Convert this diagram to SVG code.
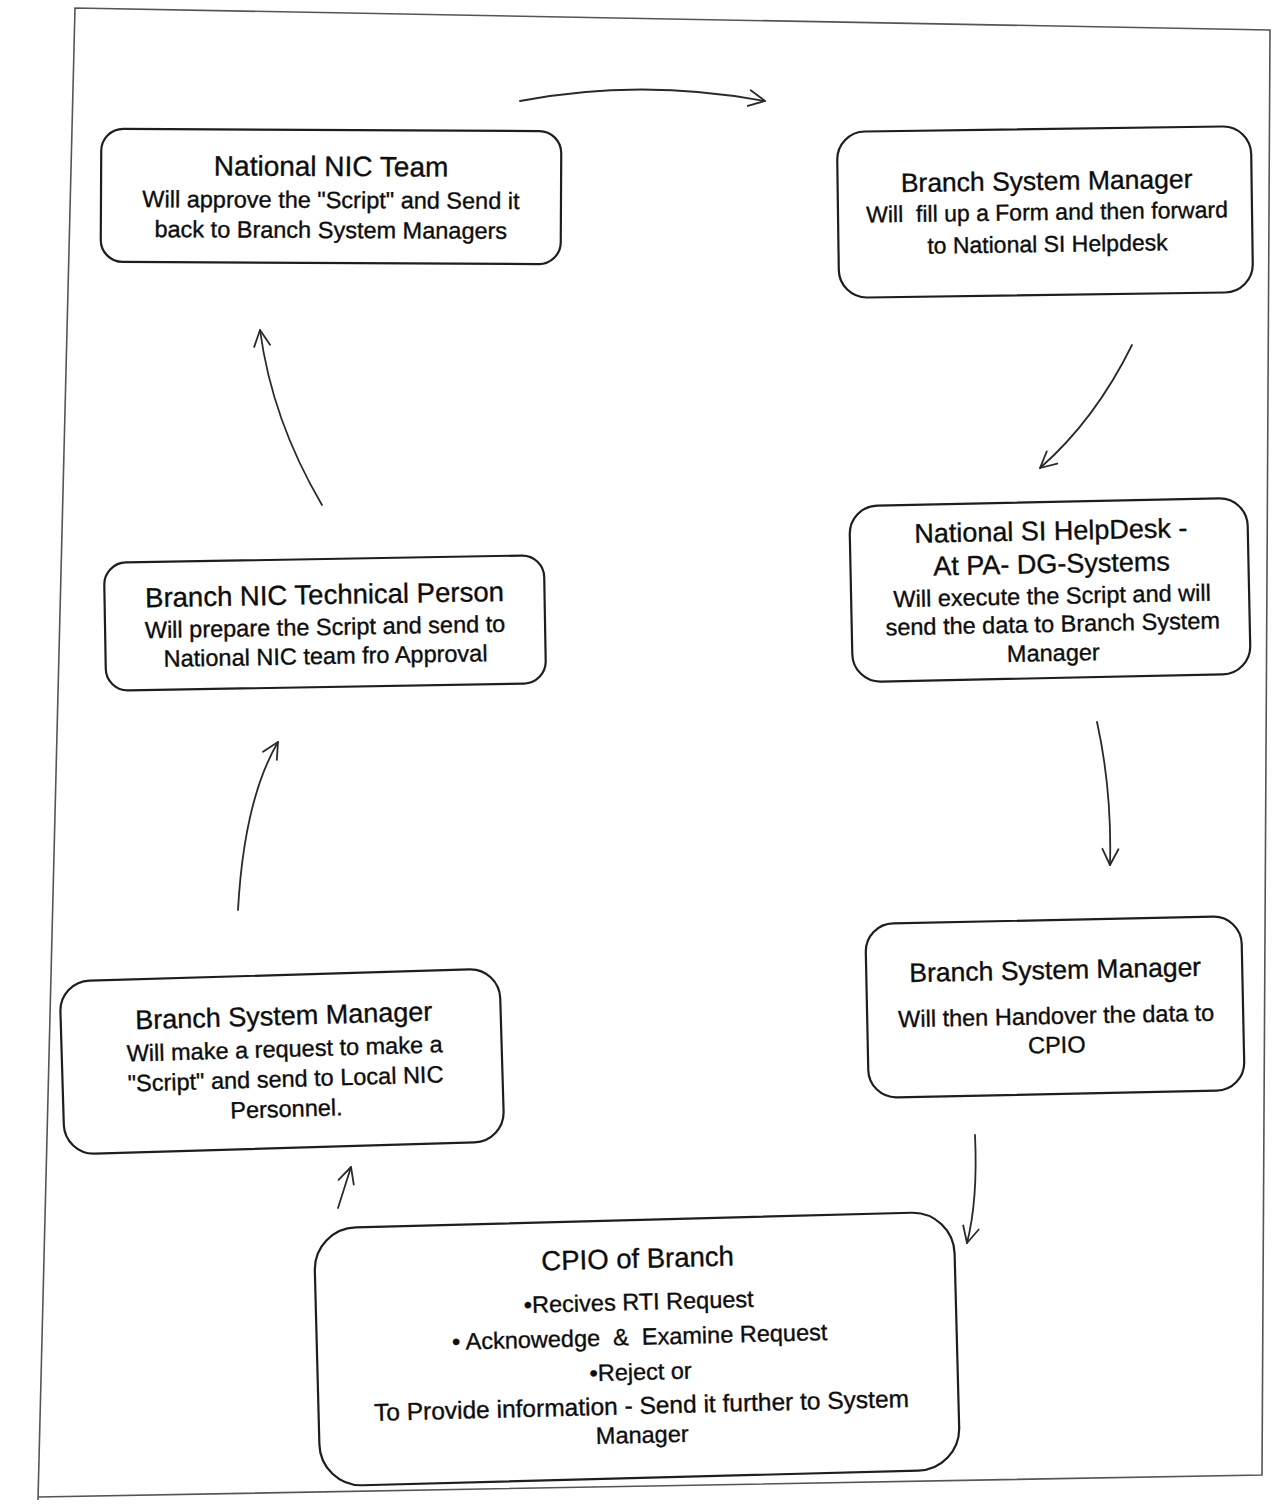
<svg xmlns="http://www.w3.org/2000/svg" width="1277" height="1504" viewBox="0 0 1277 1504">
<style>
.box{fill:#fff;stroke:#1e1e1e;stroke-width:2.2}
.t{font-family:"Liberation Sans",Arial,sans-serif;fill:#0d0d0d;stroke:#0d0d0d;stroke-width:0.35;text-anchor:middle}
.h{font-size:27px}
.b{font-size:23.5px}
.con{fill:none;stroke:#2a2a2a;stroke-width:1.8;stroke-linecap:round}
.page{fill:none;stroke:#555;stroke-width:1.6}
</style>
<defs>
<marker id="ah" viewBox="0 0 20 20" refX="18" refY="10" markerWidth="20" markerHeight="20" markerUnits="userSpaceOnUse" orient="auto">
<path d="M2,2 L18,10 L2,18" fill="none" stroke="#2a2a2a" stroke-width="1.8" stroke-linecap="round" stroke-linejoin="round"/>
</marker>
</defs>
<rect width="1277" height="1504" fill="#fff"/>
<path class="page" d="M38,1500 L75,8 L1270,30 L1262,1475 L38,1497"/>

<g id="n1" transform="rotate(0.3 331 196)">
<rect class="box" x="101" y="130" width="460" height="133" rx="22"/>
<text class="t" style="font-size:28px" x="331" y="176">National NIC Team</text>
<text class="t b" x="331" y="208">Will approve the "Script" and Send it</text>
<text class="t b" x="331" y="238">back to Branch System Managers</text>
</g>

<g id="n2" transform="rotate(-0.8 1045 212)">
<rect class="box" x="838" y="129" width="414" height="166" rx="28"/>
<text class="t" style="font-size:26.5px" x="1047" y="190">Branch System Manager</text>
<text class="t" style="font-size:23px" x="1047" y="220" xml:space="preserve">Will  fill up a Form and then forward</text>
<text class="t" style="font-size:23px" x="1047" y="252">to National SI Helpdesk</text>
</g>

<g id="n3" transform="rotate(-1.2 1050 590)">
<rect class="box" x="851" y="502" width="398" height="176" rx="28"/>
<text class="t h" x="1052" y="540">National SI HelpDesk -</text>
<text class="t h" x="1052" y="573">At PA- DG-Systems</text>
<text class="t b" x="1052" y="604">Will execute the Script and will</text>
<text class="t b" x="1052" y="632">send the data to Branch System</text>
<text class="t b" x="1052" y="661">Manager</text>
</g>

<g id="n4" transform="rotate(-1.2 1055 1007)">
<rect class="box" x="867" y="920" width="376" height="174" rx="28"/>
<text class="t" style="font-size:26.5px" x="1056" y="979">Branch System Manager</text>
<text class="t b" x="1056" y="1024">Will then Handover the data to</text>
<text class="t b" x="1056" y="1053">CPIO</text>
</g>

<g id="n5" transform="rotate(-1.5 637 1349)">
<rect class="box" x="317" y="1220" width="640" height="258" rx="42"/>
<text class="t" style="font-size:27.5px" x="640" y="1268">CPIO of Branch</text>
<text class="t b" x="640" y="1310">•Recives RTI Request</text>
<text class="t b" x="640" y="1345" xml:space="preserve">• Acknowedge  &amp;  Examine Request</text>
<text class="t b" x="640" y="1380">•Reject or</text>
<text class="t" style="font-size:24.5px" x="640" y="1414">To Provide information - Send it further to System</text>
<text class="t b" x="640" y="1443">Manager</text>
</g>

<g id="n6" transform="rotate(-1.7 282 1061)">
<rect class="box" x="62" y="975" width="440" height="173" rx="30"/>
<text class="t" style="font-size:27px" x="285" y="1025">Branch System Manager</text>
<text class="t b" x="285" y="1057">Will make a request to make a</text>
<text class="t b" x="285" y="1087">"Script" and send to Local NIC</text>
<text class="t b" x="285" y="1117">Personnel.</text>
</g>

<g id="n7" transform="rotate(-1 325 623)">
<rect class="box" x="105" y="559" width="440" height="128" rx="22"/>
<text class="t" style="font-size:27.5px" x="325" y="604">Branch NIC Technical Person</text>
<text class="t b" x="325" y="635">Will prepare the Script and send to</text>
<text class="t b" x="325" y="664">National NIC team fro Approval</text>
</g>

<g id="connectors">
<path class="con" marker-end="url(#ah)" d="M520,101 Q640,78 765,101"/>
<path class="con" marker-end="url(#ah)" d="M1132,345 Q1095,420 1040,468"/>
<path class="con" marker-end="url(#ah)" d="M1097,722 Q1112,790 1110,865"/>
<path class="con" marker-end="url(#ah)" d="M975,1135 Q978,1200 967,1243"/>
<path class="con" marker-end="url(#ah)" d="M338,1208 L351,1167"/>
<path class="con" marker-end="url(#ah)" d="M238,910 Q244,800 278,742"/>
<path class="con" marker-end="url(#ah)" d="M322,505 Q272,420 260,330"/>
</g>
</svg>
